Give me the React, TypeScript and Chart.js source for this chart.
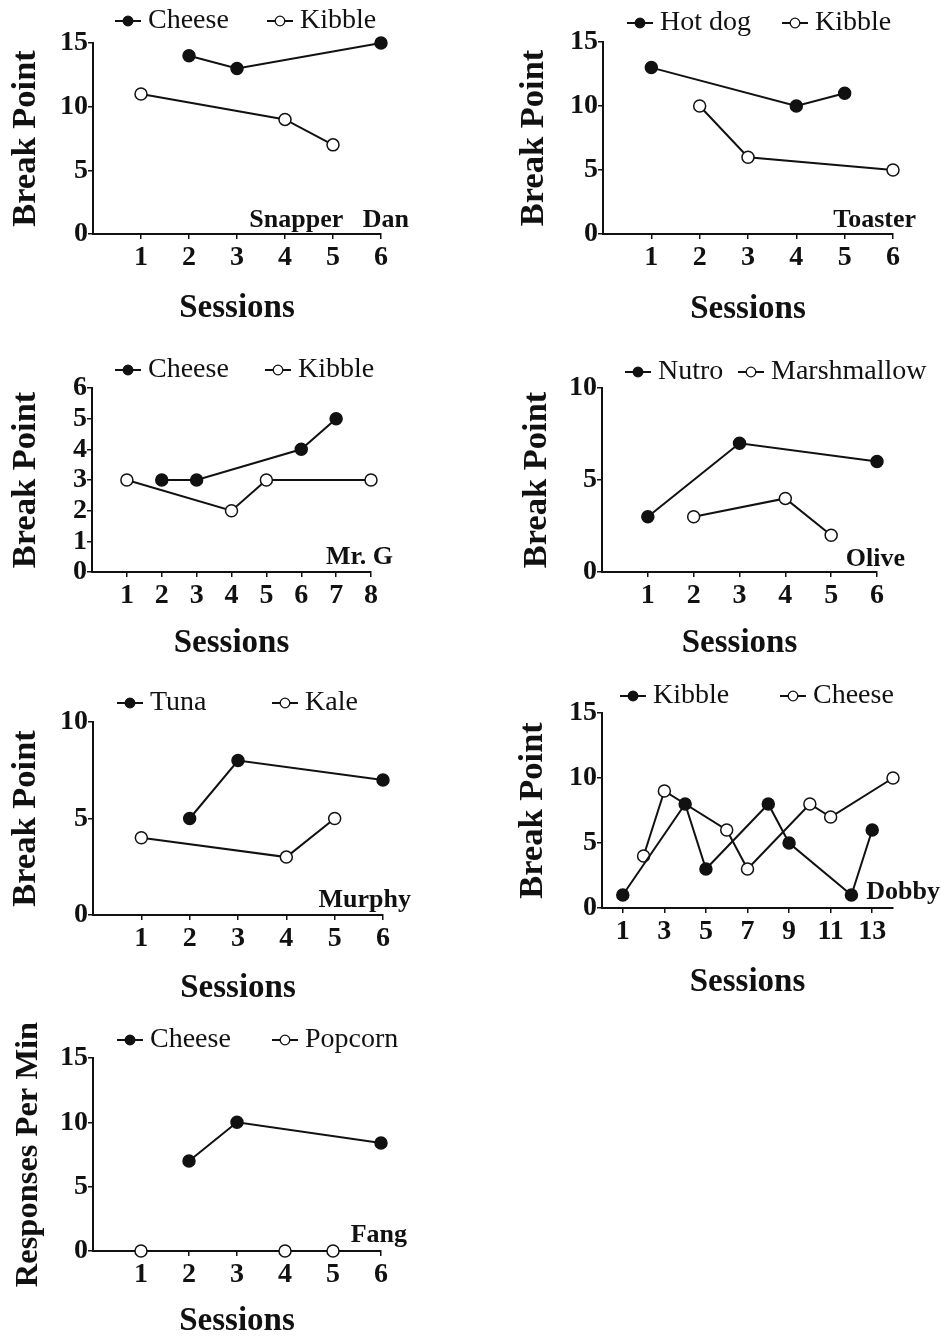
import React, { useEffect, useRef } from "react";
import { Chart, registerables } from "chart.js";

Chart.register(...registerables);

// ---------- data ----------
// Snapper Dan
const snapperCheeseSessions = [2, 3, 6];
const snapperCheeseValues = [14, 13, 15];
const snapperKibbleSessions = [1, 4, 5];
const snapperKibbleValues = [11, 9, 7];
// Toaster
const toasterHotDogSessions = [1, 4, 5];
const toasterHotDogValues = [13, 10, 11];
const toasterKibbleSessions = [2, 3, 6];
const toasterKibbleValues = [10, 6, 5];
// Mr. G
const mrGCheeseSessions = [2, 3, 6, 7];
const mrGCheeseValues = [3, 3, 4, 5];
const mrGKibbleSessions = [1, 4, 5, 8];
const mrGKibbleValues = [3, 2, 3, 3];
// Olive
const oliveNutroSessions = [1, 3, 6];
const oliveNutroValues = [3, 7, 6];
const oliveMarshmallowSessions = [2, 4, 5];
const oliveMarshmallowValues = [3, 4, 2];
// Murphy
const murphyTunaSessions = [2, 3, 6];
const murphyTunaValues = [5, 8, 7];
const murphyKaleSessions = [1, 4, 5];
const murphyKaleValues = [4, 3, 5];
// Dobby
const dobbyKibbleSessions = [1, 4, 5, 8, 9, 12, 13];
const dobbyKibbleValues = [1, 8, 3, 8, 5, 1, 6];
const dobbyCheeseSessions = [2, 3, 6, 7, 10, 11, 14];
const dobbyCheeseValues = [4, 9, 6, 3, 8, 7, 10];
// Fang
const fangCheeseSessions = [2, 3, 6];
const fangCheeseValues = [7, 10, 8.4];
const fangPopcornSessions = [1, 4, 5];
const fangPopcornValues = [0, 0, 0];

// tick values
const sessionTicks6 = [1, 2, 3, 4, 5, 6];
const sessionTicks8 = [1, 2, 3, 4, 5, 6, 7, 8];
const sessionTicksDobby = [1, 3, 5, 7, 9, 11, 13];
const yTicks15 = [0, 5, 10, 15];
const yTicks10 = [0, 5, 10];
const yTicks6 = [0, 1, 2, 3, 4, 5, 6];

// ---------- styling / layout ----------
const INK = "#111111";
const FONT = "'Liberation Serif', 'Times New Roman', Times, serif";

type Series = { label: string; xs: number[]; ys: number[]; filled: boolean; legendX: number };
type Panel = {
  name: string;
  yTitle: string;
  yTitleSize: number;
  xMax: number;
  yMax: number;
  xTicks: number[];
  yTicks: number[];
  series: Series[];
  cell: [number, number, number, number]; // left, top, width, height (page px)
  plot: [number, number, number, number]; // x0, yTop, x1, yBottom (page px)
  yTitleX: number;
  xTitleY: number;
  legendY: number;
  nameRight: number;
  nameBase: number;
};

const panels: Panel[] = [
  {
    name: "Snapper   Dan",
    yTitle: "Break Point",
    yTitleSize: 34.5,
    xMax: 6,
    yMax: 15,
    xTicks: sessionTicks6,
    yTicks: yTicks15,
    series: [
      { label: "Cheese", xs: snapperCheeseSessions, ys: snapperCheeseValues, filled: true, legendX: 115 },
      { label: "Kibble", xs: snapperKibbleSessions, ys: snapperKibbleValues, filled: false, legendX: 267 },
    ],
    cell: [0, 0, 470, 335],
    plot: [93, 43, 381, 234],
    yTitleX: 26,
    xTitleY: 308,
    legendY: 21,
    nameRight: 409,
    nameBase: 227,
  },
  {
    name: "Toaster",
    yTitle: "Break Point",
    yTitleSize: 34.5,
    xMax: 6,
    yMax: 15,
    xTicks: sessionTicks6,
    yTicks: yTicks15,
    series: [
      { label: "Hot dog", xs: toasterHotDogSessions, ys: toasterHotDogValues, filled: true, legendX: 627 },
      { label: "Kibble", xs: toasterKibbleSessions, ys: toasterKibbleValues, filled: false, legendX: 782 },
    ],
    cell: [470, 0, 471, 335],
    plot: [603, 42, 893, 234],
    yTitleX: 534,
    xTitleY: 309,
    legendY: 23,
    nameRight: 916,
    nameBase: 227,
  },
  {
    name: "Mr. G",
    yTitle: "Break Point",
    yTitleSize: 34.5,
    xMax: 8,
    yMax: 6,
    xTicks: sessionTicks8,
    yTicks: yTicks6,
    series: [
      { label: "Cheese", xs: mrGCheeseSessions, ys: mrGCheeseValues, filled: true, legendX: 115 },
      { label: "Kibble", xs: mrGKibbleSessions, ys: mrGKibbleValues, filled: false, legendX: 265 },
    ],
    cell: [0, 335, 470, 330],
    plot: [92, 388, 371, 572],
    yTitleX: 25,
    xTitleY: 643,
    legendY: 370,
    nameRight: 393,
    nameBase: 564,
  },
  {
    name: "Olive",
    yTitle: "Break Point",
    yTitleSize: 34.5,
    xMax: 6,
    yMax: 10,
    xTicks: sessionTicks6,
    yTicks: yTicks10,
    series: [
      { label: "Nutro", xs: oliveNutroSessions, ys: oliveNutroValues, filled: true, legendX: 625 },
      { label: "Marshmallow", xs: oliveMarshmallowSessions, ys: oliveMarshmallowValues, filled: false, legendX: 738 },
    ],
    cell: [470, 335, 471, 330],
    plot: [602, 388, 877, 572],
    yTitleX: 537,
    xTitleY: 643,
    legendY: 372,
    nameRight: 905,
    nameBase: 566,
  },
  {
    name: "Murphy",
    yTitle: "Break Point",
    yTitleSize: 34.5,
    xMax: 6,
    yMax: 10,
    xTicks: sessionTicks6,
    yTicks: yTicks10,
    series: [
      { label: "Tuna", xs: murphyTunaSessions, ys: murphyTunaValues, filled: true, legendX: 117 },
      { label: "Kale", xs: murphyKaleSessions, ys: murphyKaleValues, filled: false, legendX: 272 },
    ],
    cell: [0, 665, 470, 340],
    plot: [93, 722, 383, 915],
    yTitleX: 25,
    xTitleY: 988,
    legendY: 703,
    nameRight: 411,
    nameBase: 907,
  },
  {
    name: "Dobby",
    yTitle: "Break Point",
    yTitleSize: 34.5,
    xMax: 14,
    yMax: 15,
    xTicks: sessionTicksDobby,
    yTicks: yTicks15,
    series: [
      { label: "Kibble", xs: dobbyKibbleSessions, ys: dobbyKibbleValues, filled: true, legendX: 620 },
      { label: "Cheese", xs: dobbyCheeseSessions, ys: dobbyCheeseValues, filled: false, legendX: 780 },
    ],
    cell: [470, 665, 471, 340],
    plot: [602, 713, 893, 908],
    yTitleX: 533,
    xTitleY: 982,
    legendY: 696,
    nameRight: 940,
    nameBase: 899,
  },
  {
    name: "Fang",
    yTitle: "Responses Per Min",
    yTitleSize: 32.5,
    xMax: 6,
    yMax: 15,
    xTicks: sessionTicks6,
    yTicks: yTicks15,
    series: [
      { label: "Cheese", xs: fangCheeseSessions, ys: fangCheeseValues, filled: true, legendX: 117 },
      { label: "Popcorn", xs: fangPopcornSessions, ys: fangPopcornValues, filled: false, legendX: 272 },
    ],
    cell: [0, 1005, 470, 333],
    plot: [93, 1058, 381, 1251],
    yTitleX: 29,
    xTitleY: 1322,
    legendY: 1040,
    nameRight: 407,
    nameBase: 1242,
  },
];

const X_TITLE_SIZE = 33;
const Y_TITLE_PAD = 9;

function decorPlugin(p: Panel) {
  return {
    id: "panelDecor",
    afterDraw(chart: any) {
      const ctx: CanvasRenderingContext2D = chart.ctx;
      const [cl, ct] = p.cell;
      ctx.save();
      p.series.forEach((s) => {
        const mx = s.legendX - cl;
        const my = p.legendY - ct;
        ctx.strokeStyle = INK;
        ctx.lineWidth = 2;
        ctx.beginPath();
        ctx.moveTo(mx, my);
        ctx.lineTo(mx + 26, my);
        ctx.stroke();
        ctx.beginPath();
        ctx.arc(mx + 13, my, 4.8, 0, Math.PI * 2);
        ctx.fillStyle = s.filled ? INK : "#ffffff";
        ctx.fill();
        ctx.lineWidth = 1.3;
        ctx.stroke();
        ctx.fillStyle = INK;
        ctx.font = `28px ${FONT}`;
        ctx.textAlign = "left";
        ctx.textBaseline = "middle";
        ctx.fillText(s.label, mx + 33, my);
      });
      ctx.fillStyle = INK;
      ctx.font = `bold 26px ${FONT}`;
      ctx.textAlign = "right";
      ctx.textBaseline = "alphabetic";
      ctx.fillText(p.name, p.nameRight - cl, p.nameBase - ct);
      ctx.restore();
    },
  };
}

function PanelChart({ p }: { p: Panel }) {
  const ref = useRef<HTMLCanvasElement | null>(null);
  useEffect(() => {
    const canvas = ref.current;
    if (!canvas) return;
    const [cl, ct, cw, ch] = p.cell;
    const [x0, y0, x1, y1] = p.plot;
    const scaleLeft = p.yTitleX - p.yTitleSize / 2 - Y_TITLE_PAD;
    const padLeft = Math.max(0, scaleLeft - cl);
    const yAxisWidth = x0 - cl - padLeft;
    const padTop = y0 - ct;
    const padRight = cl + cw - x1;
    const xAxisHeight = ct + ch - y1;
    const xTitlePadBottom = Math.max(0, ct + ch - p.xTitleY - X_TITLE_SIZE / 2);

    const chart = new Chart(canvas, {
      type: "line",
      data: {
        datasets: p.series.map((s) => ({
          label: s.label,
          data: s.xs.map((x, i) => ({ x, y: s.ys[i] })),
          borderColor: INK,
          borderWidth: 2,
          pointRadius: 6,
          pointBorderWidth: 1.5,
          pointBackgroundColor: s.filled ? INK : "#ffffff",
          pointBorderColor: INK,
          tension: 0,
          fill: false,
          clip: false,
        })),
      },
      options: {
        responsive: false,
        animation: false,
        devicePixelRatio: 1,
        events: [],
        layout: { padding: { left: padLeft, top: padTop, right: padRight, bottom: 0 } },
        plugins: { legend: { display: false }, tooltip: { enabled: false } },
        scales: {
          x: {
            type: "linear",
            min: 0,
            max: p.xMax,
            afterBuildTicks: (ax: any) => {
              ax.ticks = p.xTicks.map((v) => ({ value: v }));
            },
            afterFit: (ax: any) => {
              ax.height = xAxisHeight;
            },
            grid: { drawOnChartArea: false, drawTicks: true, tickLength: 5, color: INK, lineWidth: 1.5 },
            border: { display: true, color: INK, width: 2 },
            ticks: {
              color: INK,
              font: { family: FONT, size: 28, weight: "bold" },
              padding: 2,
              maxRotation: 0,
              autoSkip: false,
            },
            title: {
              display: true,
              text: "Sessions",
              color: INK,
              font: { family: FONT, size: X_TITLE_SIZE, weight: "bold", lineHeight: 1 },
              padding: { top: 0, bottom: xTitlePadBottom },
            },
          },
          y: {
            type: "linear",
            min: 0,
            max: p.yMax,
            afterBuildTicks: (ax: any) => {
              ax.ticks = p.yTicks.map((v) => ({ value: v }));
            },
            afterFit: (ax: any) => {
              ax.width = yAxisWidth;
            },
            grid: { drawOnChartArea: false, drawTicks: true, tickLength: 5, color: INK, lineWidth: 1.5 },
            border: { display: true, color: INK, width: 2 },
            ticks: {
              color: INK,
              font: { family: FONT, size: 28, weight: "bold" },
              padding: 0,
              autoSkip: false,
            },
            title: {
              display: true,
              text: p.yTitle,
              color: INK,
              font: { family: FONT, size: p.yTitleSize, weight: "bold", lineHeight: 1 },
              padding: { top: Y_TITLE_PAD, bottom: 0 },
            },
          },
        },
      } as any,
      plugins: [decorPlugin(p)],
    });
    return () => chart.destroy();
  }, [p]);

  const [cl, ct, cw, ch] = p.cell;
  return (
    <canvas
      ref={ref}
      width={cw}
      height={ch}
      style={{ position: "absolute", left: cl, top: ct, width: cw, height: ch }}
    />
  );
}

export default function App() {
  return (
    <div
      style={{
        position: "absolute",
        left: 0,
        top: 0,
        width: 941,
        height: 1338,
        background: "#ffffff",
        overflow: "hidden",
      }}
    >
      {panels.map((p) => (
        <PanelChart key={p.name} p={p} />
      ))}
    </div>
  );
}
